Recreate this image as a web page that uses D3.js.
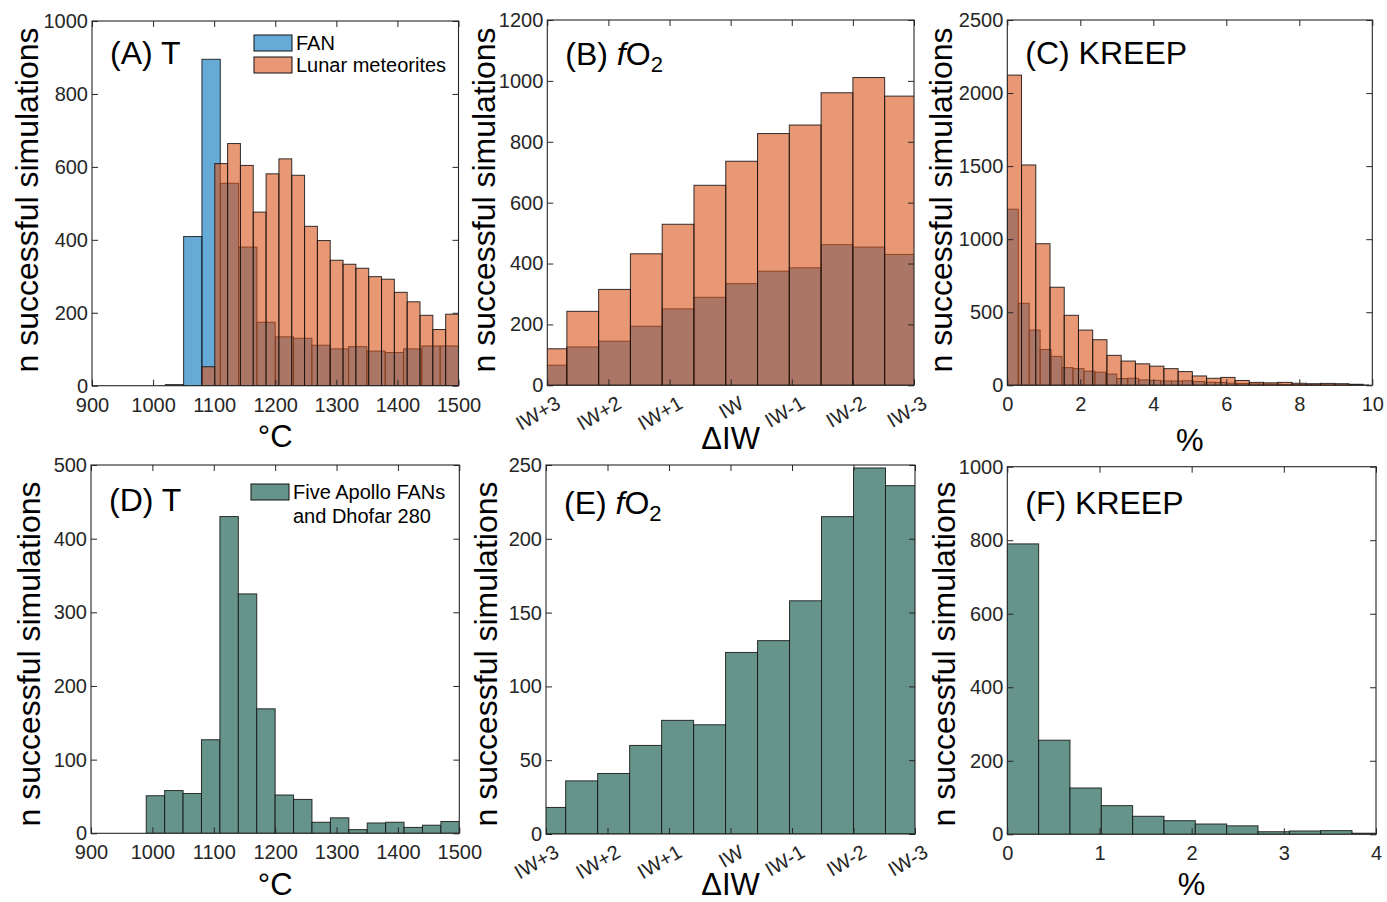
<!DOCTYPE html>
<html><head><meta charset="utf-8">
<script src="https://cdn.jsdelivr.net/npm/d3@7"></script>
<style>
body{margin:0;background:#fff;}
svg{display:block;}
text{font-family:"Liberation Sans",Arial,Helvetica,sans-serif;}
</style>
</head><body>
<svg id="chart" width="1387" height="902"></svg>
<script>
// ---------------- DATA ----------------
// Panel A: temperature (°C)
const A_FAN_EDGES = [1020,1050,1080,1110,1140,1170,1200,1230,1260,1290,1320,1350,1380,1410,1440,1470,1500];
const A_FAN_COUNTS = [3,409,895,555,380,174,134,130,111,101,107,95,91,101,109,109];
const A_LUNAR_EDGES = [1080,1101,1122,1143,1164,1185,1206,1227,1248,1269,1290,1311,1332,1353,1374,1395,1416,1437,1458,1479,1500];
const A_LUNAR_COUNTS = [52,609,664,604,476,581,622,577,437,398,344,333,322,299,292,256,230,193,154,196];
const T_X_TICKS = [900,1000,1100,1200,1300,1400,1500];
const A_Y_TICKS = [0,200,400,600,800,1000];

// Panel B: fO2 (ΔIW)
const IW_EDGES = [3.2,2.68,2.16,1.64,1.12,0.60,0.08,-0.44,-0.96,-1.48,-2.00,-2.52,-3.04];
const B_FAN_COUNTS = [66,126,145,194,251,289,334,375,386,462,454,430];
const B_LUNAR_COUNTS = [120,243,315,432,529,657,736,827,855,961,1011,950];
const IW_TICKS = [3,2,1,0,-1,-2,-3];
const IW_LABELS = ["IW+3","IW+2","IW+1","IW","IW-1","IW-2","IW-3"];
const B_Y_TICKS = [0,200,400,600,800,1000,1200];

// Panel C: KREEP (%)
const C_FAN_EDGES = [0,0.3,0.6,0.9,1.2,1.5,1.8,2.1,2.4,2.7,3.0,3.3,3.6,3.9,4.2,4.5,4.8,5.1,5.4,5.7,6.0,6.3,6.6,6.9,7.2,7.5,7.8,8.1,8.4,8.7,9.0,9.3,9.6,9.9];
const C_FAN_COUNTS = [1205,561,378,245,198,121,114,97,90,77,46,49,37,34,30,29,31,26,21,19,15,12,10,9,8,6,5,5,4,3,3,2,2];
const C_LUNAR_EDGES = [0,0.39,0.78,1.17,1.56,1.95,2.34,2.73,3.12,3.51,3.90,4.29,4.68,5.07,5.46,5.85,6.24,6.63,7.02,7.41,7.80,8.19,8.58,8.97,9.36,9.75];
const C_LUNAR_COUNTS = [2123,1508,969,671,479,378,312,205,166,147,131,114,94,64,48,54,33,20,17,20,14,11,13,11,7];
const C_X_TICKS = [0,2,4,6,8,10];
const C_Y_TICKS = [0,500,1000,1500,2000,2500];

// Panel D: T, five Apollo FANs and Dhofar 280
const D_EDGES = [990,1020,1050,1080,1110,1140,1170,1200,1230,1260,1290,1320,1350,1380,1410,1440,1470,1500];
const D_COUNTS = [51,58,54,127,430,325,169,52,46,15,21,5,14,15,8,11,16];
const D_Y_TICKS = [0,100,200,300,400,500];

// Panel E: fO2
const E_COUNTS = [18,36,41,60,77,74,123,131,158,215,248,236];
const E_Y_TICKS = [0,50,100,150,200,250];

// Panel F: KREEP
const F_EDGES = [0,0.34,0.68,1.02,1.36,1.70,2.04,2.38,2.72,3.06,3.40,3.74,4.08];
const F_COUNTS = [790,256,126,78,49,37,28,23,7,9,10,3];
const F_X_TICKS = [0,1,2,3,4];
const F_Y_TICKS = [0,200,400,600,800,1000];

const Y_TITLE = "n successful simulations";
const LEGEND_A = ["FAN","Lunar meteorites"];
const LEGEND_D = ["Five Apollo FANs","and Dhofar 280"];

// ---------------- STYLE ----------------
const BLUE = "rgb(0,114,189)";
const ORANGE = "rgb(217,83,25)";
const GREEN = "#66948a";
const AXIS_COLOR = "#262626";
const FONT = '"Liberation Sans",Arial,Helvetica,sans-serif';
const fmt = d3.format("d");

const svg = d3.select("#chart");
const defs = svg.append("defs");

function drawPanel(p) {
  const x = d3.scaleLinear().domain(p.xDomain).range([p.left, p.right]);
  const y = d3.scaleLinear().domain(p.yDomain).range([p.bottom, p.top]);

  const clipId = "clip" + p.id;
  defs.append("clipPath").attr("id", clipId).append("rect")
    .attr("x", p.left).attr("y", p.top)
    .attr("width", p.right - p.left).attr("height", p.bottom - p.top);

  const barsG = svg.append("g").attr("clip-path", `url(#${clipId})`);
  p.series.forEach(s => {
    const bins = s.counts.map((c, i) => ({x0: s.edges[i], x1: s.edges[i + 1], c}));
    barsG.append("g").selectAll("rect").data(bins).join("rect")
      .attr("x", d => Math.min(x(d.x0), x(d.x1)))
      .attr("width", d => Math.abs(x(d.x1) - x(d.x0)))
      .attr("y", d => y(d.c))
      .attr("height", d => y(0) - y(d.c))
      .attr("fill", s.fill)
      .attr("fill-opacity", s.opacity)
      .attr("stroke", "#111")
      .attr("stroke-opacity", 0.85)
      .attr("stroke-width", 1);
  });

  const tl = 6;
  // bottom axis
  const gb = svg.append("g").attr("transform", `translate(0,${p.bottom})`)
    .attr("color", AXIS_COLOR)
    .call(d3.axisBottom(x).tickValues(p.xTicks).tickSize(-tl).tickSizeOuter(0).tickPadding(12)
      .tickFormat((d, i) => p.xLabels ? p.xLabels[i] : fmt(d)));
  gb.selectAll("text").attr("font-size", 20).attr("font-family", FONT).attr("fill", AXIS_COLOR);
  if (p.rotated) {
    gb.selectAll("text")
      .attr("text-anchor", "end")
      .attr("dy", 0)
      .attr("x", 14).attr("y", 22)
      .attr("transform", "rotate(-30,14,22)");
  }
  // top axis
  svg.append("g").attr("transform", `translate(0,${p.top})`).attr("color", AXIS_COLOR)
    .call(d3.axisTop(x).tickValues(p.xTicks).tickSize(-tl).tickSizeOuter(0).tickFormat(""));
  // left axis
  const gl = svg.append("g").attr("transform", `translate(${p.left},0)`).attr("color", AXIS_COLOR)
    .call(d3.axisLeft(y).tickValues(p.yTicks).tickSize(-tl).tickSizeOuter(0).tickPadding(4).tickFormat(fmt));
  gl.selectAll("text").attr("font-size", 20).attr("font-family", FONT).attr("fill", AXIS_COLOR);
  // right axis
  svg.append("g").attr("transform", `translate(${p.right},0)`).attr("color", AXIS_COLOR)
    .call(d3.axisRight(y).tickValues(p.yTicks).tickSize(-tl).tickSizeOuter(0).tickFormat(""));
  svg.selectAll(".domain").remove();
  svg.selectAll(".tick line").attr("stroke-width", 1);

  // box
  svg.append("rect").attr("x", p.left).attr("y", p.top)
    .attr("width", p.right - p.left).attr("height", p.bottom - p.top)
    .attr("fill", "none").attr("stroke", AXIS_COLOR).attr("stroke-width", 1.1);

  // y title
  svg.append("text")
    .attr("transform", `translate(${p.yTitleX},${p.yTitleY}) rotate(-90)`)
    .attr("text-anchor", "middle").attr("font-size", 32).attr("fill", "#000")
    .text(Y_TITLE);
  // x title
  svg.append("text").attr("x", (p.left + p.right) / 2).attr("y", p.xTitleY)
    .attr("text-anchor", "middle").attr("font-size", 31).attr("fill", "#000")
    .text(p.xTitle);

  // panel label
  const lab = svg.append("text").attr("x", p.left + 18).attr("y", p.labelY)
    .attr("font-size", 32).attr("fill", "#000");
  if (p.fo2) {
    lab.append("tspan").text(p.label + " ");
    lab.append("tspan").attr("font-style", "italic").text("f");
    lab.append("tspan").text("O");
    lab.append("tspan").attr("font-size", 22).attr("dy", 7).text("2");
  } else {
    lab.text(p.label);
  }
  return {x, y};
}

const panels = [
  {id: "A", left: 92, right: 458.5, top: 21, bottom: 385.7, xDomain: [900, 1500], yDomain: [0, 1000],
   xTicks: T_X_TICKS, yTicks: A_Y_TICKS, label: "(A) T", labelY: 64, xTitle: "°C", xTitleY: 447,
   yTitleX: 38, yTitleY: 200,
   series: [{edges: A_FAN_EDGES, counts: A_FAN_COUNTS, fill: BLUE, opacity: 0.6},
            {edges: A_LUNAR_EDGES, counts: A_LUNAR_COUNTS, fill: ORANGE, opacity: 0.6}]},
  {id: "B", left: 547.3, right: 914, top: 20, bottom: 385.3, xDomain: [3, -3], yDomain: [0, 1200],
   xTicks: IW_TICKS, xLabels: IW_LABELS, rotated: true, yTicks: B_Y_TICKS, label: "(B)", fo2: true, labelY: 65,
   xTitle: "ΔIW", xTitleY: 449, yTitleX: 495, yTitleY: 200,
   series: [{edges: IW_EDGES, counts: B_FAN_COUNTS, fill: BLUE, opacity: 0.6},
            {edges: IW_EDGES, counts: B_LUNAR_COUNTS, fill: ORANGE, opacity: 0.6}]},
  {id: "C", left: 1007.3, right: 1372.3, top: 20, bottom: 385.3, xDomain: [0, 10], yDomain: [0, 2500],
   xTicks: C_X_TICKS, yTicks: C_Y_TICKS, label: "(C) KREEP", labelY: 64, xTitle: "%", xTitleY: 451,
   yTitleX: 952, yTitleY: 200,
   series: [{edges: C_FAN_EDGES, counts: C_FAN_COUNTS, fill: BLUE, opacity: 0.6},
            {edges: C_LUNAR_EDGES, counts: C_LUNAR_COUNTS, fill: ORANGE, opacity: 0.6}]},
  {id: "D", left: 91, right: 459.3, top: 465, bottom: 833.3, xDomain: [900, 1500], yDomain: [0, 500],
   xTicks: T_X_TICKS, yTicks: D_Y_TICKS, label: "(D) T", labelY: 511, xTitle: "°C", xTitleY: 895,
   yTitleX: 40, yTitleY: 654,
   series: [{edges: D_EDGES, counts: D_COUNTS, fill: GREEN, opacity: 1}]},
  {id: "E", left: 546, right: 915, top: 465, bottom: 834, xDomain: [3, -3], yDomain: [0, 250],
   xTicks: IW_TICKS, xLabels: IW_LABELS, rotated: true, yTicks: E_Y_TICKS, label: "(E)", fo2: true, labelY: 514,
   xTitle: "ΔIW", xTitleY: 895, yTitleX: 497, yTitleY: 654,
   series: [{edges: IW_EDGES, counts: E_COUNTS, fill: GREEN, opacity: 1}]},
  {id: "F", left: 1007.3, right: 1376, top: 466.7, bottom: 834.3, xDomain: [0, 4], yDomain: [0, 1000],
   xTicks: F_X_TICKS, yTicks: F_Y_TICKS, label: "(F) KREEP", labelY: 514, xTitle: "%", xTitleY: 895,
   yTitleX: 955, yTitleY: 654,
   series: [{edges: F_EDGES, counts: F_COUNTS, fill: GREEN, opacity: 1}]}
];

panels.forEach(drawPanel);

// Legends
function legend(items, fills, x0, y0, dy) {
  const g = svg.append("g");
  fills.forEach((f, i) => {
    g.append("rect").attr("x", x0).attr("y", y0 + i * dy).attr("width", 38).attr("height", 16)
      .attr("fill", f.fill).attr("fill-opacity", f.opacity)
      .attr("stroke", "#111").attr("stroke-width", 1);
  });
  items.forEach((t, i) => {
    g.append("text").attr("x", x0 + 42).attr("y", y0 + 15 + i * dy)
      .attr("font-size", 20).attr("fill", "#000").text(t);
  });
}
legend(LEGEND_A, [{fill: BLUE, opacity: 0.6}, {fill: ORANGE, opacity: 0.6}], 254, 35, 22);
legend(LEGEND_D, [{fill: GREEN, opacity: 1}], 251, 484, 24);
</script>
</body></html>
